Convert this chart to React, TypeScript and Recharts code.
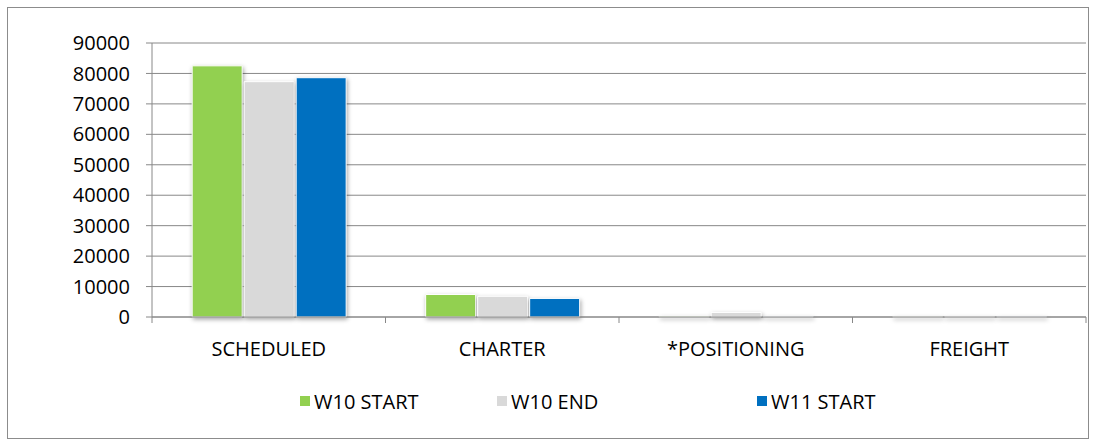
import React from 'react';
import { BarChart, Bar, XAxis, YAxis, CartesianGrid } from 'recharts';

const categories = ['SCHEDULED', 'CHARTER', '*POSITIONING', 'FREIGHT'];
const w10Start = [82500, 7400, 250, 80];
const w10End = [77300, 6800, 1500, 80];
const w11Start = [78600, 6100, 200, 80];
const yTicks = [0, 10000, 20000, 30000, 40000, 50000, 60000, 70000, 80000, 90000];

const series = [
  { key: 'w10Start', name: 'W10 START', color: '#92D050', values: w10Start },
  { key: 'w10End', name: 'W10 END', color: '#D9D9D9', values: w10End },
  { key: 'w11Start', name: 'W11 START', color: '#0070C0', values: w11Start },
];

const data = categories.map((c, i) => ({
  name: c,
  w10Start: w10Start[i],
  w10End: w10End[i],
  w11Start: w11Start[i],
}));

const FONT = '"Open Sans", "Noto Sans", sans-serif';
const GRID = '#888888';
const legendLeft = [300, 497, 757];

function CategoryTick(props: any) {
  const { x, y, payload, width, visibleTicksCount, index } = props;
  const n = visibleTicksCount || categories.length;
  const band = width / n;
  const left = x - band / 2;
  const right = x + band / 2;
  return (
    <g>
      <line x1={left} y1={y} x2={left} y2={y + 6} stroke={GRID} strokeWidth={1} />
      {index === n - 1 && <line x1={right} y1={y} x2={right} y2={y + 6} stroke={GRID} strokeWidth={1} />}
      <text x={x} y={y + 25} dy="0.71em" textAnchor="middle" fill="#000" fontSize={20} fontFamily={FONT}>
        {payload.value}
      </text>
    </g>
  );
}

export default function App() {
  return (
    <div style={{ position: 'absolute', left: 0, top: 0, width: 1095, height: 442, background: '#fff', fontFamily: FONT }}>
      <div style={{ position: 'absolute', left: 7, top: 7, width: 1080, height: 430, border: '1px solid #8c8c8c' }} />
      <div style={{ position: 'absolute', left: 0, top: 0 }}>
        <BarChart
          width={1095}
          height={442}
          data={data}
          margin={{ top: 43, right: 9, left: 0, bottom: 85 }}
          barCategoryGap="17.2%"
          barGap={2}
        >
          <CartesianGrid vertical={false} stroke={GRID} strokeWidth={1} />
          <XAxis
            dataKey="name"
            height={40}
            tickLine={false}
            tickSize={0}
            tickMargin={0}
            axisLine={{ stroke: GRID }}
            tick={<CategoryTick />}
            interval={0}
          />
          <YAxis
            width={152}
            domain={[0, 90000]}
            ticks={yTicks}
            tickSize={6}
            tickMargin={16}
            tickLine={{ stroke: GRID }}
            axisLine={{ stroke: GRID }}
            tick={{ fill: '#000', fontSize: 20, fontFamily: FONT }}
            interval={0}
          />
          {series.map((s) => (
            <Bar
              key={s.key}
              dataKey={s.key}
              name={s.name}
              fill={s.color}
              stroke="#ffffff"
              strokeWidth={1}
              isAnimationActive={false}
              style={{ filter: 'drop-shadow(1px 2px 2px rgba(0,0,0,0.35))' }}
            />
          ))}
        </BarChart>
      </div>
      {series.map((s, i) => (
        <div
          key={s.key}
          style={{
            position: 'absolute',
            left: legendLeft[i],
            top: 388,
            height: 26,
            display: 'flex',
            alignItems: 'center',
            fontSize: 20,
            color: '#000',
            whiteSpace: 'nowrap',
          }}
        >
          <span style={{ display: 'inline-block', width: 10, height: 10, background: s.color, marginRight: 4 }} />
          {s.name}
        </div>
      ))}
    </div>
  );
}
